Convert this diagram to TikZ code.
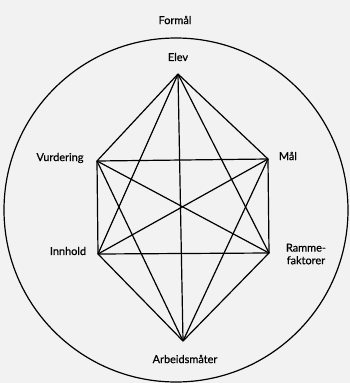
\documentclass[tikz,border=0pt]{standalone}
\usepackage{fontspec}
\setmainfont{Lato}
\newfontfamily\lblfont{Lato}[FakeBold=0.5]
\usepackage{tikz}

\tikzset{
  lbl/.style={inner sep=0pt, font=\lblfont\fontsize{8.2}{9.5}\selectfont, align=center},
  edge/.style={line width=0.9pt, line join=round}
}

\begin{document}
\begin{tikzpicture}[x=0.75pt,y=0.75pt,yscale=-1,xscale=1]
%set diagram size 350 x 383
\useasboundingbox [fill=black!5] (0,0) rectangle (350,383);

%Shape: Circle
\draw [line width=0.9pt] (176,210) circle (172);

%Corners
\coordinate (elev) at (178,74);
\coordinate (vurd) at (97,161);
\coordinate (maal) at (268,159);
\coordinate (innh) at (98,254);
\coordinate (ramme) at (269,253);
\coordinate (arb) at (183,341);

%Labels
\node [lbl] (formaal) at (175,20) {Formål};
\node [lbl] (elevtxt) at (178,57) {Elev};
\node [lbl] (vurdtxt) at (60,158) {Vurdering};
\node [lbl] (maaltxt) at (288,156) {Mål};
\node [lbl] (innhtxt) at (68,251) {Innhold};
\node [lbl] (rammetxt) at (306,254) {Ramme-\\faktorer};
\node [lbl] (arbtxt) at (185,359) {Arbeidsmåter};

%Straight Lines from Elev
\draw [edge] (elev) -- (vurd);
\draw [edge] (elev) -- (maal);
\draw [edge] (elev) -- (innh);
\draw [edge] (elev) -- (ramme);
\draw [edge] (elev) -- (arb);

%Straight Lines, rectangle
\draw [edge] (vurd) -- (maal) -- (ramme) -- (innh) -- cycle;
\draw [edge] (vurd) -- (ramme);
\draw [edge] (maal) -- (innh);

%Straight Lines to Arbeidsmaater
\draw [edge] (vurd) -- (arb);
\draw [edge] (maal) -- (arb);
\draw [edge] (innh) -- (arb);
\draw [edge] (ramme) -- (arb);
\end{tikzpicture}
\end{document}
